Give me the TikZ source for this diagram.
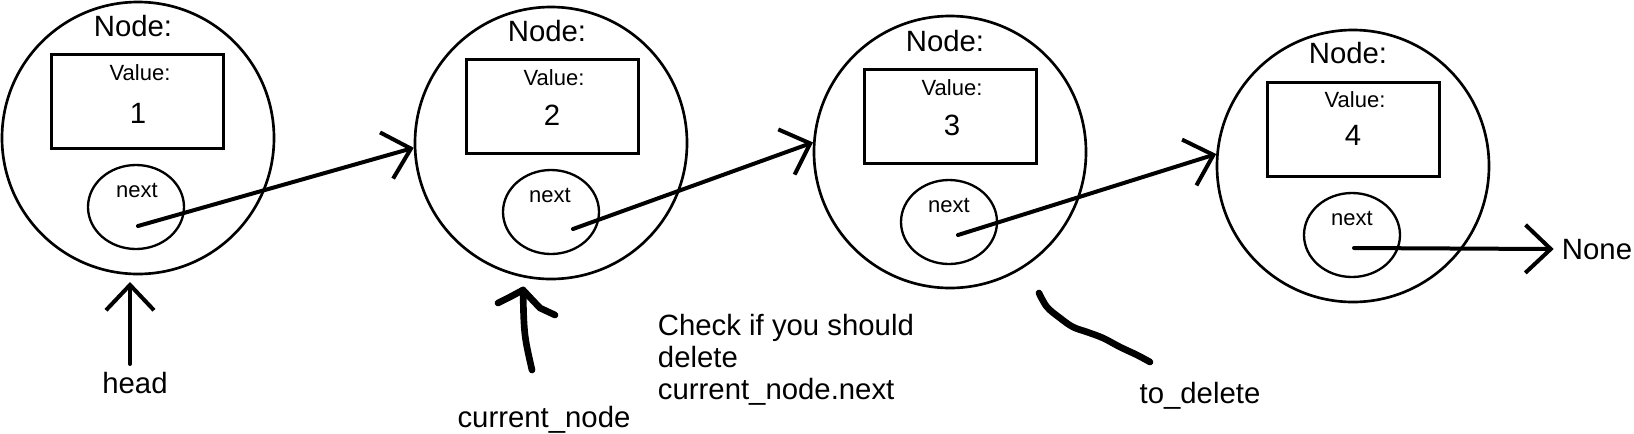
\documentclass[tikz,border=0pt]{standalone}
\usepackage{fontspec}
\setmainfont{Liberation Sans}
\usetikzlibrary{arrows.meta, positioning, shapes.geometric}

\begin{document}
\begin{tikzpicture}[
    x=0.75pt, y=-0.75pt,
    listnode/.style={circle, draw, line width=2pt, minimum size=204pt, inner sep=0pt},
    valbox/.style={rectangle, draw, line width=2.25pt, minimum width=129pt, minimum height=70.5pt, inner sep=0pt},
    nextbox/.style={ellipse, draw, line width=1.75pt, minimum width=72pt, minimum height=63pt, inner sep=0pt},
    bigtext/.style={font=\fontsize{22pt}{24pt}\selectfont, inner sep=2pt},
    smalltext/.style={font=\fontsize{16.5pt}{19pt}\selectfont, inner sep=1pt},
    ptr/.style={-{Straight Barb[length=19pt, width=36pt]}, line width=3pt, line join=round, line cap=round},
    marker/.style={line width=5pt, line cap=round, line join=round}
]
    \useasboundingbox (0,0) rectangle (1634,433);

    % Node 1
    \node[listnode] (n1) at (138, 138) {};
    \node[bigtext, anchor=base] (t1) at (133, 36) {Node:};
    \node[valbox] (v1) at (137.5, 101) {};
    \node[smalltext, anchor=base] (vl1) at (140, 80) {Value:};
    \node[bigtext, anchor=base] (d1) at (138, 123) {1};
    \node[nextbox] (e1) at (136, 207) {};
    \node[smalltext, anchor=base] (nx1) at (137, 197) {next};
    \coordinate (s1) at (138, 226);

    % Node 2
    \node[listnode] (n2) at (551, 143) {};
    \node[bigtext, anchor=base] (t2) at (547, 41) {Node:};
    \node[valbox] (v2) at (552, 106.5) {};
    \node[smalltext, anchor=base] (vl2) at (554, 85) {Value:};
    \node[bigtext, anchor=base] (d2) at (552, 125) {2};
    \node[nextbox] (e2) at (551, 212) {};
    \node[smalltext, anchor=base] (nx2) at (550, 202) {next};
    \coordinate (s2) at (573, 229);

    % Node 3
    \node[listnode] (n3) at (950, 152) {};
    \node[bigtext, anchor=base] (t3) at (945, 51) {Node:};
    \node[valbox] (v3) at (950, 116) {};
    \node[smalltext, anchor=base] (vl3) at (952, 95) {Value:};
    \node[bigtext, anchor=base] (d3) at (952, 135) {3};
    \node[nextbox] (e3) at (949, 222) {};
    \node[smalltext, anchor=base] (nx3) at (949, 212) {next};
    \coordinate (s3) at (958, 235);

    % Node 4
    \node[listnode] (n4) at (1353, 166) {};
    \node[bigtext, anchor=base] (t4) at (1348, 63) {Node:};
    \node[valbox] (v4) at (1353, 129.5) {};
    \node[smalltext, anchor=base] (vl4) at (1355, 107) {Value:};
    \node[bigtext, anchor=base] (d4) at (1353, 145) {4};
    \node[nextbox] (e4) at (1352, 235) {};
    \node[smalltext, anchor=base] (nx4) at (1352, 225) {next};
    \coordinate (s4) at (1354, 248);
    \node[bigtext, anchor=base west] (none) at (1559, 259) {None};

    % Labels
    \node[bigtext, anchor=base] (head) at (135, 393) {head};
    \node[bigtext, anchor=base] (cur) at (544, 427) {current\_node};
    \node[bigtext, anchor=base] (todel) at (1200, 403) {to\_delete};
    \node[bigtext, anchor=base west, align=left] (check) at (655, 399) {Check if you should\\delete\\current\_node.next};
    \coordinate (headtail) at (130, 364);
    \coordinate (headtip) at (130, 282);
    \coordinate (curtail) at (532, 370);
    \coordinate (curtip) at (523, 290);

    % Pointers
    \draw[ptr] (s1) -- (n2.182);
    \draw[ptr] (s2) -- (n3.176);
    \draw[ptr] (s3) -- (n4.175);
    \draw[ptr, shorten >=4pt] (s4) -- (none.west);
    \draw[ptr] (headtail) -- (headtip);

    % Hand-drawn marks
    \draw[marker] (curtail) .. controls (524, 335) .. (curtip);
    \draw[marker] (498, 303) -- (510, 297) -- (curtip) -- (540, 308) -- (555, 315);
    \draw[marker] plot[smooth, tension=0.6] coordinates {(1039,293) (1047,307) (1060,318) (1073,327) (1087,332) (1103,338) (1120,347) (1137,355) (1150,362)};
\end{tikzpicture}
\end{document}
